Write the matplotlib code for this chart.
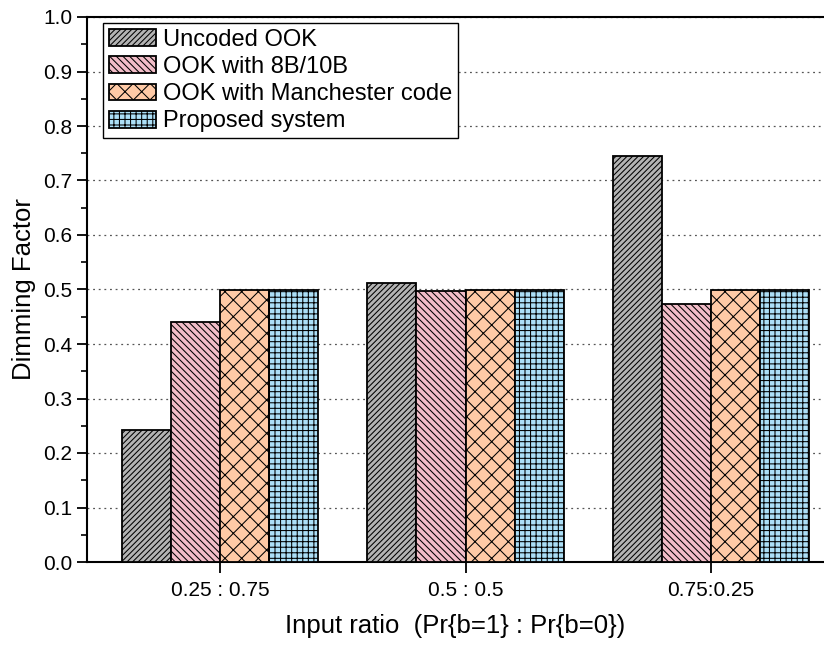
import matplotlib
matplotlib.use('Agg')
import matplotlib.pyplot as plt
import numpy as np
from matplotlib.ticker import MultipleLocator, FormatStrFormatter

plt.rcParams['font.family'] = ['Liberation Sans', 'DejaVu Sans']
plt.rcParams['hatch.linewidth'] = 0.75

# data
groups = ['0.25 : 0.75', '0.5 : 0.5', '0.75:0.25']
series = ['Uncoded OOK', 'OOK with 8B/10B', 'OOK with Manchester code', 'Proposed system']
uncoded = [0.243, 0.512, 0.745]
ook_8b10b = [0.440, 0.498, 0.474]
manchester = [0.500, 0.500, 0.500]
proposed = [0.500, 0.500, 0.500]

values = [uncoded, ook_8b10b, manchester, proposed]
colors = ['#b3b3b3', '#f2bdc8', '#ffcaa6', '#acdff7']
hatches = ['//////', '\\\\\\\\\\', 'xx', '+++']

fig = plt.figure(figsize=(8.24, 6.48), dpi=100)
ax = fig.add_axes([87/824, 86/648, (824-87)/824, 545/648])

x = np.arange(1, len(groups) + 1)
w = 0.2
for i, (vals, c, h, name) in enumerate(zip(values, colors, hatches, series)):
    ax.bar(x + (i - 1.5) * w, vals, w, color=c, hatch=h, edgecolor='black',
           linewidth=1.3, label=name, zorder=3)

ax.set_xlim(0.458, 3.46)
ax.set_ylim(0, 1.0)
ax.set_xticks(x)
ax.set_xticklabels(groups)
ax.yaxis.set_major_locator(MultipleLocator(0.1))
ax.yaxis.set_minor_locator(MultipleLocator(0.05))
ax.yaxis.set_major_formatter(FormatStrFormatter('%.1f'))

ax.grid(axis='y', linestyle=(0, (1.5, 3)), color='#555555', linewidth=0.9, zorder=0)
ax.tick_params(axis='both', which='major', labelsize=15, direction='out', width=1.3)
ax.tick_params(axis='y', which='major', length=7)
ax.tick_params(axis='y', which='minor', length=4, width=1.2)
ax.tick_params(axis='x', which='major', length=8, pad=6)

for s in ['left', 'bottom', 'top']:
    ax.spines[s].set_linewidth(1.5)
ax.spines['right'].set_visible(False)

ax.set_ylabel('Dimming Factor', fontsize=18.5, labelpad=5)
ax.set_xlabel('Input ratio  (Pr{b=1} : Pr{b=0})', fontsize=18.5, labelpad=10)

leg = ax.legend(loc='upper left', bbox_to_anchor=(0.0217, 0.989), fontsize=17,
                frameon=True, fancybox=False, edgecolor='black', framealpha=1,
                handlelength=2.0, handleheight=0.72, handletextpad=0.3,
                labelspacing=0.22, borderpad=0.25, borderaxespad=0.0)
leg.get_frame().set_linewidth(1.0)

fig.savefig('out.png', dpi=100)
